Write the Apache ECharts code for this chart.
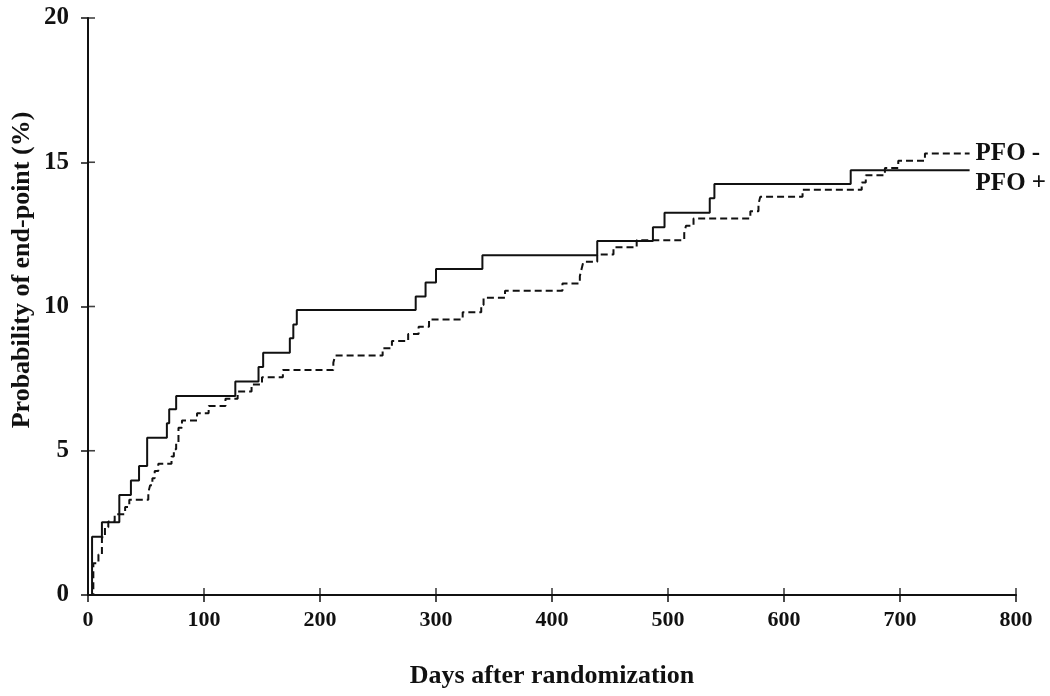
<!DOCTYPE html>
<html>
<head>
<meta charset="utf-8">
<script src="https://cdn.jsdelivr.net/npm/echarts@6/dist/echarts.min.js"></script>
<style>
html,body{margin:0;padding:0;background:#fff;}
#chart{width:1050px;height:696px;}
</style>
</head>
<body>
<div id="chart"></div>
<script>
// Kaplan-Meier style step data (days, cumulative probability %)
var pfoPlusDays = [0, 3.5, 12, 27, 37, 44, 51, 68, 70, 76, 127, 147, 151, 174, 177, 180, 282.5, 291, 300, 340, 439, 487, 497, 536, 540, 657.5, 760];
var pfoPlusVals = [0, 2.02, 2.52, 3.47, 3.97, 4.47, 5.45, 5.95, 6.44, 6.9, 7.4, 7.9, 8.4, 8.9, 9.38, 9.88, 10.35, 10.83, 11.3, 11.78, 12.27, 12.75, 13.25, 13.75, 14.25, 14.72, 14.72];

var pfoMinusDays = [0, 4.6, 9, 12, 14.6, 17.5, 23, 32, 35.6, 52, 53.5, 55.5, 57.5, 60.6, 72, 74, 76, 78, 81, 94, 104, 118.5, 129, 141, 150, 168, 211.5, 213, 254, 262, 276, 285, 294, 323, 339, 341, 359.5, 409, 424, 425.5, 427, 439, 453, 473, 514, 515.5, 522, 571, 578, 579.5, 616, 667, 670.5, 687, 698.5, 721.5, 760];
var pfoMinusVals = [0, 1.1, 1.4, 2.0, 2.35, 2.55, 2.8, 3.05, 3.3, 3.55, 3.8, 4.05, 4.3, 4.55, 4.8, 5.05, 5.3, 5.8, 6.05, 6.3, 6.55, 6.8, 7.05, 7.3, 7.55, 7.8, 8.05, 8.3, 8.55, 8.8, 9.05, 9.3, 9.55, 9.8, 10.05, 10.3, 10.55, 10.8, 11.05, 11.3, 11.55, 11.8, 12.05, 12.3, 12.55, 12.8, 13.05, 13.3, 13.55, 13.8, 14.05, 14.3, 14.55, 14.8, 15.05, 15.3, 15.3];

var xTicks = [0, 100, 200, 300, 400, 500, 600, 700, 800];
var yTicks = [0, 5, 10, 15, 20];

var seriesNames = ['PFO +', 'PFO -'];
var xTitle = 'Days after randomization';
var yTitle = 'Probability of end-point (%)';

var FONT = '"Liberation Serif", "Times New Roman", serif';
var INK = '#111';

function pairs(d, v) { return d.map(function (x, i) { return [x, v[i]]; }); }

var chart = echarts.init(document.getElementById('chart'), null, {renderer: 'canvas'});

var option = {
  animation: false,
  backgroundColor: '#fff',
  grid: {left: 88, right: 34, top: 18, bottom: 101, containLabel: false},
  xAxis: {
    type: 'value', min: 0, max: 800, interval: 100, position: 'bottom',
    axisLine: {show: true, lineStyle: {color: INK, width: 2}},
    axisTick: {show: true, inside: false, length: 7, lineStyle: {color: INK, width: 1.5}},
    axisLabel: {color: INK, fontFamily: FONT, fontWeight: 'bold', fontSize: 22, margin: 14},
    splitLine: {show: false}
  },
  yAxis: {
    type: 'value', min: 0, max: 20, interval: 5, position: 'left',
    axisLine: {show: true, lineStyle: {color: INK, width: 2}},
    axisTick: {show: true, inside: false, length: 7, lineStyle: {color: INK, width: 1.5}},
    axisLabel: {color: INK, fontFamily: FONT, fontWeight: 'bold', fontSize: 25, margin: 19},
    splitLine: {show: false}
  },
  graphic: [{
    type: 'text', x: 22, y: 270, rotation: Math.PI / 2,
    style: {text: yTitle, font: 'bold 26px ' + FONT, fill: INK, textAlign: 'center', textVerticalAlign: 'middle'}
  }, {
    type: 'text', x: 552, y: 676,
    style: {text: xTitle, font: 'bold 26px ' + FONT, fill: INK, textAlign: 'center', textVerticalAlign: 'middle'}
  }],
  series: [{
    name: seriesNames[0], type: 'line', step: 'end',
    showSymbol: false, symbol: 'none',
    data: pairs(pfoPlusDays, pfoPlusVals),
    lineStyle: {color: INK, width: 2, type: 'solid'},
    endLabel: {show: true, formatter: '{a}', color: INK, fontFamily: FONT, fontWeight: 'bold', fontSize: 25, distance: 6, offset: [0, 13]}
  }, {
    name: seriesNames[1], type: 'line', step: 'end',
    showSymbol: false, symbol: 'none',
    data: pairs(pfoMinusDays, pfoMinusVals),
    lineStyle: {color: INK, width: 2, type: [7, 4]},
    endLabel: {show: true, formatter: '{a}', color: INK, fontFamily: FONT, fontWeight: 'bold', fontSize: 25, distance: 6, offset: [0, 0]}
  }, {
    // inner half of x ticks (ticks cross the axis)
    name: 'xTickInner', type: 'scatter', silent: true, clip: false,
    symbol: 'rect', symbolSize: [1.6, 7], symbolOffset: [0, -3.5],
    itemStyle: {color: INK},
    data: xTicks.map(function (t) { return [t, 0]; })
  }, {
    // inner half of y ticks
    name: 'yTickInner', type: 'scatter', silent: true, clip: false,
    symbol: 'rect', symbolSize: [7, 1.6], symbolOffset: [3.5, 0],
    itemStyle: {color: INK},
    data: yTicks.map(function (t) { return [0, t]; })
  }]
};
chart.setOption(option);
</script>
</body>
</html>
